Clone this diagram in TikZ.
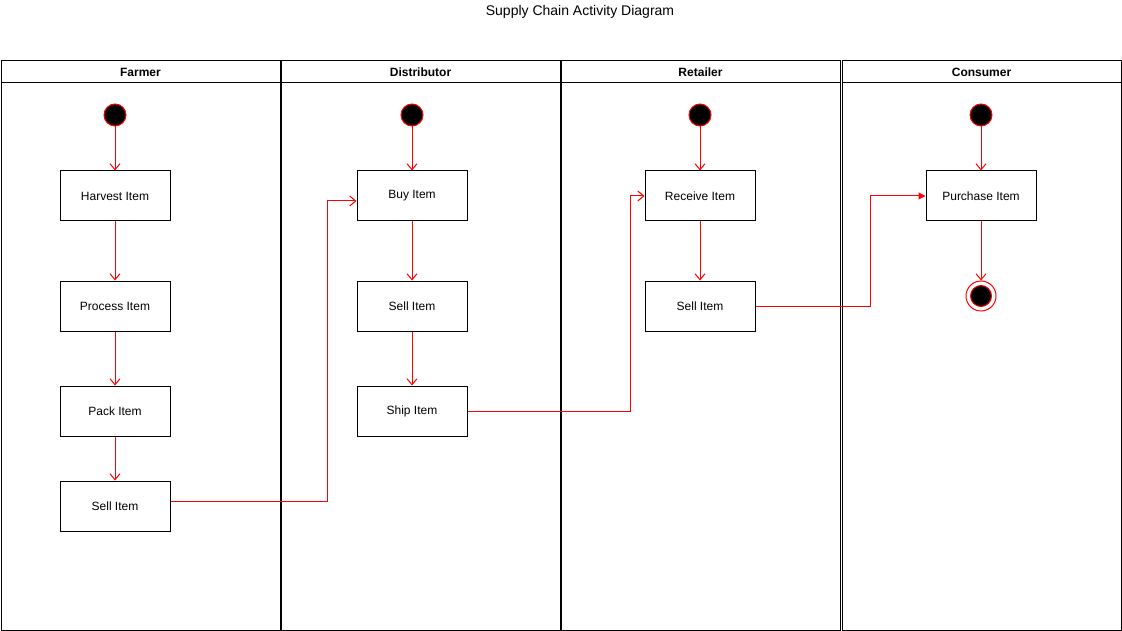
\documentclass[tikz,border=0pt]{standalone}
\usepackage{fontspec}
\setmainfont{Liberation Sans}
\usetikzlibrary{positioning,arrows.meta,calc}

\begin{document}
\begin{tikzpicture}
            [
            x=1pt, y=-1pt,
            lane/.style={draw, line width=1pt},
            action/.style={rectangle, draw, line width=1pt, minimum width=110pt,
                minimum height=50pt, inner sep=0pt, font=\fontsize{12pt}{14pt}\selectfont},
            init dot/.style={circle, fill=black, draw=red, line width=1pt,
                minimum width=22pt, inner sep=0pt},
            final dot/.style={circle, draw=red, line width=1pt, minimum width=30pt,
                inner sep=0pt, path picture={\fill[black, draw=red, line width=1pt]
                (path picture bounding box.center) circle (10.5pt);}},
            flow/.style={draw=red, line width=1pt, -{Straight Barb[length=6pt,width=10pt]}},
            handoff/.style={draw=red, line width=1pt, -{Triangle[length=7pt,width=7pt]}},
            header/.style={font=\bfseries\fontsize{12pt}{14pt}\selectfont}
            ]

            \useasboundingbox (0,0) rectangle (1122,631);

            \node (title) at (580,12) {\fontsize{14pt}{16pt}\selectfont Supply Chain Activity Diagram};

            % Swimlanes
            \foreach \x/\name in {1/Farmer, 281/Distributor, 561/Retailer, 842/Consumer}{
                \draw [lane] (\x,61) rectangle ++(279,569);
                \draw [lane] (\x,83) -- ++(279,0);
                \node [header] at ($(\x,72)+(139.5,0)$) {\name};
            }

            % Farmer
            \node (f0) at (115,115) [init dot] {};
            \node (f1) [below=44pt of f0, action] {Harvest Item};
            \node (f2) [below=59pt of f1, action] {Process Item};
            \node (f3) [below=54pt of f2, action] {Pack Item};
            \node (f4) [below=44pt of f3, action] {Sell Item};

            % Distributor
            \node (d0) at (412,115) [init dot] {};
            \node (d1) [below=44pt of d0, action] {Buy Item};
            \node (d2) [below=59pt of d1, action] {Sell Item};
            \node (d3) [below=54pt of d2, action] {Ship Item};

            % Retailer
            \node (r0) at (700,115) [init dot] {};
            \node (r1) [below=44pt of r0, action] {Receive Item};
            \node (r2) [below=59pt of r1, action] {Sell Item};

            % Consumer
            \node (c0) at (981,115) [init dot] {};
            \node (c1) [below=44pt of c0, action] {Purchase Item};
            \node (c2) at (981,296) [final dot] {};

            \draw [flow] (f0) -- (f1);
            \draw [flow] (f1) -- (f2);
            \draw [flow] (f2) -- (f3);
            \draw [flow] (f3) -- (f4);

            \draw [flow] (d0) -- (d1);
            \draw [flow] (d1) -- (d2);
            \draw [flow] (d2) -- (d3);

            \draw [flow] (r0) -- (r1);
            \draw [flow] (r1) -- (r2);

            \draw [flow] (c0) -- (c1);
            \draw [flow] (c1) -- (c2);

            % Hand-offs between lanes
            \coordinate (bend1) at (327,0);
            \coordinate (bend2) at (630,0);
            \coordinate (bend3) at (870,0);
            \coordinate (f4out) at ([yshift=5pt]f4.east);
            \coordinate (d1in) at ([yshift=-5pt]d1.west);
            \draw [flow] (f4out) -| (d1in -| bend1) -- (d1in);
            \draw [flow] (d3.east) -| (r1.west -| bend2) -- (r1.west);
            \draw [handoff] (r2.east) -| (c1.west -| bend3) -- (c1.west);

        \end{tikzpicture}
\end{document}
